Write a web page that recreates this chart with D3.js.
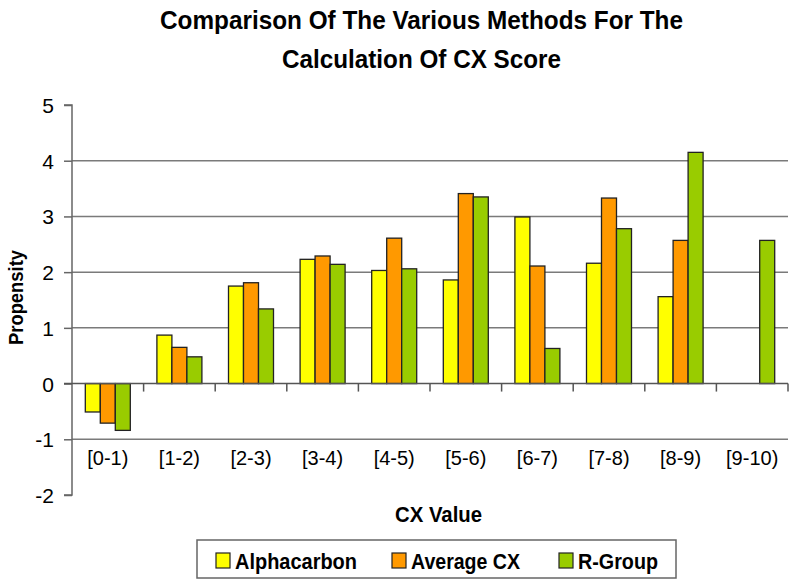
<!DOCTYPE html>
<html>
<head>
<meta charset="utf-8">
<script src="https://cdn.jsdelivr.net/npm/d3@7/dist/d3.min.js"></script>
<style>
  html, body { margin: 0; padding: 0; background: #fff; }
  svg { display: block; font-family: "Liberation Sans", Arial, sans-serif; }
</style>
</head>
<body>
<svg id="chart" width="800" height="588"></svg>
<script>
const categories = ["[0-1)", "[1-2)", "[2-3)", "[3-4)", "[4-5)", "[5-6)", "[6-7)", "[7-8)", "[8-9)", "[9-10)"];
const seriesNames = ["Alphacarbon", "Average CX", "R-Group"];
const alphacarbon = [-0.51, 0.87, 1.75, 2.23, 2.03, 1.86, 2.99, 2.16, 1.56, null];
const averageCX   = [-0.71, 0.65, 1.81, 2.29, 2.61, 3.41, 2.11, 3.33, 2.57, null];
const rGroup      = [-0.84, 0.48, 1.34, 2.14, 2.06, 3.35, 0.63, 2.78, 4.15, 2.57];
const seriesColors = ["#FFFF00", "#FF9900", "#99CC00"];
const yTicks = [-2, -1, 0, 1, 2, 3, 4, 5];
const gridValues = [-1, 1, 2, 3, 4];
const titleLines = ["Comparison Of The Various Methods For The", "Calculation Of CX Score"];
const xTitle = "CX Value";
const yTitle = "Propensity";

(function () {
const seriesValues = [alphacarbon, averageCX, rGroup];

const svg = d3.select("#chart");
const pLeft = 72, pRight = 788, pTop = 105, pBottom = 495;

const x0 = d3.scaleBand().domain(categories).range([pLeft, pRight]).padding(0);
const barW = 15;
const groupPad = (x0.bandwidth() - barW * 3) / 2;
const x1 = d3.scaleBand().domain(seriesNames).range([groupPad, x0.bandwidth() - groupPad]).padding(0);
const y = d3.scaleLinear().domain([-2, 5]).range([pBottom, pTop]);

// gridlines
svg.append("g").selectAll("line").data(gridValues).join("line")
  .attr("x1", pLeft).attr("x2", pRight)
  .attr("y1", d => y(d)).attr("y2", d => y(d))
  .attr("stroke", "#7a7a7a").attr("stroke-width", 1.5);

// y axis
const yAxis = d3.axisLeft(y).tickValues(yTicks).tickSize(8).tickPadding(10).tickFormat(d => String(d));
const gy = svg.append("g").attr("transform", `translate(${pLeft},0)`).call(yAxis);
gy.select(".domain").attr("stroke", "#666").attr("stroke-width", 1.5).attr("d", `M-8,${pTop}H0V${pBottom}H-8`);
gy.selectAll(".tick line").attr("stroke", "#666").attr("stroke-width", 1.5);
gy.selectAll(".tick text").attr("font-size", 21).attr("fill", "#000")
  .attr("font-family", "'Liberation Sans', Arial, sans-serif").attr("dy", "0.36em");

// bars
const groups = svg.append("g").selectAll("g").data(categories).join("g")
  .attr("transform", d => `translate(${x0(d)},0)`);
groups.selectAll("rect")
  .data((c, i) => seriesNames.map((s, j) => ({ s, j, v: seriesValues[j][i] })).filter(d => d.v !== null))
  .join("rect")
  .attr("x", d => x1(d.s))
  .attr("width", x1.bandwidth())
  .attr("y", d => y(Math.max(0, d.v)))
  .attr("height", d => Math.abs(y(d.v) - y(0)))
  .attr("fill", d => seriesColors[d.j])
  .attr("stroke", "#222").attr("stroke-width", 1.3);

// x axis at zero
const xAxis = d3.axisBottom(x0).tickSize(0).tickFormat("");
const gx = svg.append("g").attr("transform", `translate(0,${y(0)})`).call(xAxis);
gx.select(".domain").attr("stroke", "#555").attr("stroke-width", 1.5).attr("d", `M${pLeft - 8},0H${pRight}`);
const boundaries = categories.map(c => x0(c)).concat([pRight]).slice(1);
gx.selectAll(".bt").data(boundaries).join("line").attr("class", "bt")
  .attr("x1", d => d).attr("x2", d => d).attr("y1", 0).attr("y2", 8)
  .attr("stroke", "#555").attr("stroke-width", 1.5);

// category labels
svg.append("g").selectAll("text").data(categories).join("text")
  .attr("x", d => x0(d) + x0.bandwidth() / 2)
  .attr("y", 465)
  .attr("text-anchor", "middle")
  .attr("font-size", 20)
  .text(d => d);

// title
const titleLens = [523, 279];
svg.append("g").selectAll("text").data(titleLines).join("text")
  .attr("x", 421.5).attr("y", (d, i) => 29 + i * 39)
  .attr("text-anchor", "middle")
  .attr("font-size", 26).attr("font-weight", "bold")
  .attr("textLength", (d, i) => titleLens[i]).attr("lengthAdjust", "spacingAndGlyphs")
  .text(d => d);

// axis titles
svg.append("text").attr("x", 438.5).attr("y", 521.5).attr("text-anchor", "middle")
  .attr("font-size", 22).attr("font-weight", "bold")
  .attr("textLength", 87).attr("lengthAdjust", "spacingAndGlyphs")
  .text(xTitle);
svg.append("text").attr("transform", "translate(23,297.5) rotate(-90)").attr("text-anchor", "middle")
  .attr("font-size", 21).attr("font-weight", "bold")
  .attr("textLength", 95).attr("lengthAdjust", "spacingAndGlyphs")
  .text(yTitle);

// legend
svg.append("rect").attr("x", 197).attr("y", 540).attr("width", 479).attr("height", 38)
  .attr("fill", "#fff").attr("stroke", "#666").attr("stroke-width", 1.5);
const legX = [216, 392, 559];
const legTextLen = [122, 109, 80];
const leg = svg.append("g").selectAll("g").data(seriesNames).join("g")
  .attr("transform", (d, i) => `translate(${legX[i]},0)`);
leg.append("rect").attr("x", 0).attr("y", 553).attr("width", 14).attr("height", 15)
  .attr("fill", (d, i) => seriesColors[i]).attr("stroke", "#222").attr("stroke-width", 1.2);
leg.append("text").attr("x", 19).attr("y", 568.5)
  .attr("font-size", 22).attr("font-weight", "bold")
  .attr("textLength", (d, i) => legTextLen[i]).attr("lengthAdjust", "spacingAndGlyphs")
  .text(d => d);
})();
</script>
</body>
</html>
